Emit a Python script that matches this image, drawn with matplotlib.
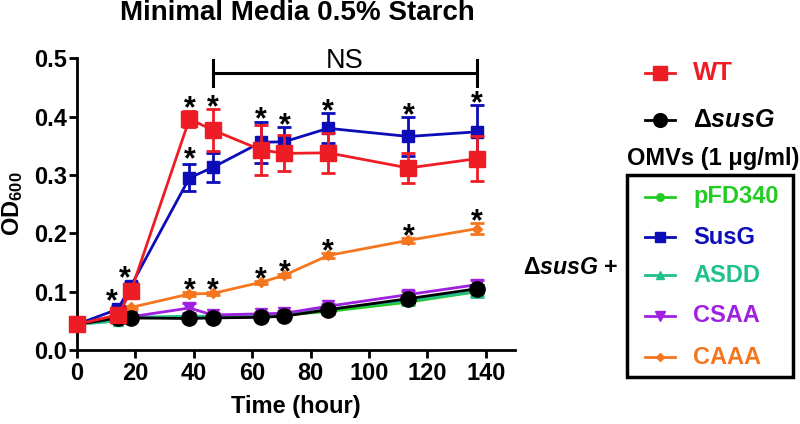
import numpy as np
import matplotlib
matplotlib.use('Agg')
import matplotlib.pyplot as plt

plt.rcParams['font.family'] = ['Liberation Sans', 'DejaVu Sans']
plt.rcParams['font.weight'] = 'bold'
plt.rcParams['axes.labelweight'] = 'bold'
plt.rcParams['mathtext.fontset'] = 'custom'
plt.rcParams['mathtext.rm'] = 'Liberation Sans:bold'
plt.rcParams['mathtext.it'] = 'Liberation Sans:italic:bold'
plt.rcParams['mathtext.bf'] = 'Liberation Sans:bold'

# Data
time = [0, 14, 18.5, 38.5, 46.5, 63, 71, 86, 113.5, 137]

wt = [0.044, 0.060, 0.101, 0.396, 0.377, 0.343, 0.337, 0.338, 0.312, 0.328]
wt_err = [0.003, 0.005, 0.006, 0.014, 0.036, 0.043, 0.031, 0.034, 0.025, 0.038]
dsusg = [0.044, 0.055, 0.055, 0.054, 0.055, 0.056, 0.058, 0.069, 0.088, 0.105]
dsusg_err = [0.002, 0.003, 0.003, 0.003, 0.003, 0.003, 0.003, 0.004, 0.005, 0.006]
pfd340 = [0.044, 0.050, 0.055, 0.056, 0.057, 0.058, 0.060, 0.066, 0.082, 0.100]
pfd340_err = [0.002, 0.003, 0.003, 0.003, 0.003, 0.003, 0.003, 0.004, 0.005, 0.006]
susg = [0.044, 0.070, 0.110, 0.295, 0.313, 0.356, 0.357, 0.380, 0.366, 0.374]
susg_err = [0.003, 0.005, 0.006, 0.023, 0.025, 0.035, 0.025, 0.026, 0.033, 0.046]
asdd = [0.044, 0.050, 0.056, 0.058, 0.058, 0.059, 0.061, 0.070, 0.085, 0.100]
asdd_err = [0.002, 0.004, 0.003, 0.003, 0.003, 0.003, 0.003, 0.004, 0.006, 0.010]
csaa = [0.044, 0.055, 0.057, 0.072, 0.060, 0.062, 0.063, 0.075, 0.095, 0.112]
csaa_err = [0.002, 0.003, 0.003, 0.008, 0.003, 0.003, 0.004, 0.004, 0.006, 0.008]
caaa = [0.044, 0.060, 0.073, 0.096, 0.097, 0.116, 0.128, 0.162, 0.188, 0.208]
caaa_err = [0.002, 0.003, 0.003, 0.004, 0.003, 0.003, 0.003, 0.004, 0.004, 0.010]

# significance marks (indices into time)
upper_star_idx = [3, 4, 5, 6, 7, 8, 9]
early_star_idx = [1, 2]
caaa_star_idx = [3, 4, 5, 6, 7, 8, 9]

RED = '#EE1C25'
BLUE = '#0C0CB8'
GREEN = '#22CC22'
TEAL = '#20C08C'
PURPLE = '#A020E0'
ORANGE = '#F5761E'

# (label, values, errors, color, marker, markersize, zorder)
series = [
    ('pFD340', pfd340, pfd340_err, GREEN, 'o', 6, 3),
    ('ASDD', asdd, asdd_err, TEAL, '^', 7, 4),
    ('CSAA', csaa, csaa_err, PURPLE, 'v', 8, 5),
    ('CAAA', caaa, caaa_err, ORANGE, 'D', 5, 6),
    ('SusG', susg, susg_err, BLUE, 's', 8, 7),
    (r'$\Delta\mathit{susG}$', dsusg, dsusg_err, 'black', 'o', 11, 8),
    ('WT', wt, wt_err, RED, 's', 11, 9),
]
style = {s[0]: s for s in series}

fig = plt.figure(figsize=(8, 4.24), dpi=100)
ax = fig.add_axes([77 / 800, 1 - 350 / 424, 438 / 800, 291.7 / 424])

for label, vals, errs, color, marker, ms, z in series:
    ax.errorbar(time, vals, yerr=errs, color=color, marker=marker, markersize=ms,
                lw=2, elinewidth=2, capsize=5, capthick=2, zorder=z, clip_on=False)

t = np.array(time)
top = np.maximum(np.array(wt) + wt_err, np.array(susg) + susg_err)
star_kw = dict(ha='center', va='center', fontsize=22, fontweight='bold', clip_on=False)
for i in upper_star_idx:
    ax.text(t[i], top[i] + 0.002, '*', **star_kw)
ax.text(t[3], susg[3] + susg_err[3] + 0.008, '*', **star_kw)
for i in early_star_idx:
    ax.text(t[i] - 2, susg[i] + 0.012, '*', **star_kw)
for i in caaa_star_idx:
    ax.text(t[i], caaa[i] + caaa_err[i] + 0.001, '*', **star_kw)

# NS bracket
x0, x1 = time[4], time[9]
ax.plot([x0, x1], [0.475, 0.475], color='black', lw=2.2, clip_on=False, zorder=10)
ax.plot([x0, x0], [0.452, 0.497], color='black', lw=2.2, clip_on=False, zorder=10)
ax.plot([x1, x1], [0.452, 0.497], color='black', lw=2.2, clip_on=False, zorder=10)
ax.text((x0 + x1) / 2, 0.483, 'NS', ha='center', va='baseline', fontsize=19.5,
        fontweight='normal', clip_on=False)

ax.set_xlim(0, 150)
ax.set_ylim(0, 0.5)
ax.set_xticks(np.arange(0, 141, 20))
ax.set_yticks(np.arange(0, 0.51, 0.1))
ax.set_yticklabels([f'{v:.1f}' for v in np.arange(0, 0.51, 0.1)])
for sp in ['top', 'right']:
    ax.spines[sp].set_visible(False)
for sp in ['left', 'bottom']:
    ax.spines[sp].set_linewidth(2)
ax.tick_params(axis='both', length=6, width=2, labelsize=17)
ax.tick_params(axis='x', pad=3)
ax.tick_params(axis='y', pad=1)
ax.set_xlabel('Time (hour)', fontsize=17, fontweight='bold', labelpad=7)
ax.set_ylabel('OD$_{600}$', fontsize=17, fontweight='bold')
ax.yaxis.set_label_coords(-0.119, 0.5)

fig.text(297 / 800, 1 - 20 / 424, 'Minimal Media 0.5% Starch', ha='center',
         va='baseline', fontsize=20, fontweight='bold')

# custom legend in pixel coordinates
lg = fig.add_axes([0, 0, 1, 1], facecolor='none')
lg.set_xlim(0, 800)
lg.set_ylim(424, 0)
lg.axis('off')


def legend_row(name, y, size):
    _, _, _, color, marker, ms, _ = style[name]
    lg.plot([645, 675], [y, y], color=color, lw=2)
    lg.plot([660], [y], color=color, marker=marker, markersize=ms * 0.9)
    lg.text(693, y, name, color=color, fontsize=size, va='center', ha='left')


legend_row('WT', 73, 18.5)
legend_row(r'$\Delta\mathit{susG}$', 120, 18)
lg.text(627, 158, 'OMVs (1 \u03bcg/ml)', fontsize=17, va='center', ha='left')
lg.add_patch(plt.Rectangle((627, 175), 166, 202, fill=False, lw=2.5, ec='black'))
for name, y in zip(['pFD340', 'SusG', 'ASDD', 'CSAA', 'CAAA'], [197, 237, 275, 316, 357]):
    legend_row(name, y, 17)
lg.text(523, 267, r'$\Delta\mathit{susG}$ +', fontsize=16.7, va='center', ha='left')

fig.savefig('out.png', dpi=100)
